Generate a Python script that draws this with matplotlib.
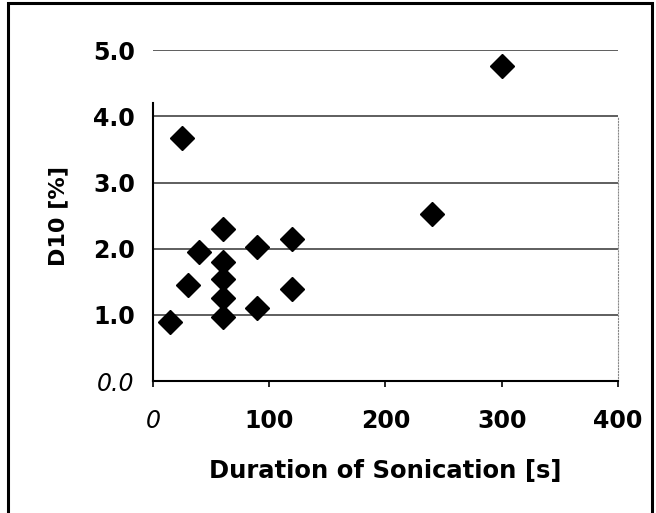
import matplotlib.pyplot as plt
from matplotlib.patches import Rectangle

# Sonication duration [s] and D10 [%]
duration = [15, 25, 30, 40, 60, 60, 60, 60, 60, 90, 90, 120, 120, 240, 300]
d10 = [0.9, 3.67, 1.45, 1.95, 2.3, 1.8, 1.55, 1.25, 0.97, 2.02, 1.1, 2.15, 1.4, 2.52, 4.76]

x_ticks = [0, 100, 200, 300, 400]
x_labels = ['0', '100', '200', '300', '400']
y_ticks = [0.0, 1.0, 2.0, 3.0, 4.0, 5.0]
y_labels = ['0.0', '1.0', '2.0', '3.0', '4.0', '5.0']


def main():
    fig = plt.figure(figsize=(6.56, 5.13), dpi=100)
    fig.patches.append(Rectangle((0.012, -0.01), 0.982, 1.004, transform=fig.transFigure,
                                 fill=False, edgecolor='black', linewidth=2.2))

    ax = fig.add_axes([0.233, 0.257, 0.709, 0.645])
    ax.set_xlim(0, 400)
    ax.set_ylim(0, 5.0)

    # horizontal grid lines
    for y in y_ticks[1:]:
        ax.axhline(y, color='#333333', linewidth=1.1, zorder=1)

    ax.plot(duration, d10, linestyle='none', marker='D', markersize=12,
            color='black', zorder=3, clip_on=False)

    ax.spines['top'].set_visible(False)
    ax.spines['right'].set_color('#888888')
    ax.spines['right'].set_linestyle(':')
    ax.spines['right'].set_bounds(0, 4.0)
    ax.spines['left'].set_bounds(0, 4.2)
    ax.spines['left'].set_linewidth(1.5)
    ax.spines['bottom'].set_linewidth(1.5)

    ax.set_xticks(x_ticks)
    ax.set_xticklabels(x_labels, fontsize=17, fontweight='bold')
    ax.set_yticks(y_ticks)
    ax.set_yticklabels(y_labels, fontsize=17, fontweight='bold')
    ax.xaxis.get_ticklabels()[0].set_style('italic')
    ax.xaxis.get_ticklabels()[0].set_fontweight('normal')
    ax.yaxis.get_ticklabels()[0].set_style('italic')
    ax.yaxis.get_ticklabels()[0].set_fontweight('normal')
    ax.tick_params(axis='x', length=4, width=1.2, pad=16)
    ax.tick_params(axis='y', length=0, pad=13)

    ax.set_xlabel('Duration of Sonication [s]', fontsize=17.5, fontweight='bold', labelpad=19)
    ax.set_ylabel('D10 [%]', fontsize=16, fontweight='bold', labelpad=18)

    fig.savefig('out.png', dpi=100)


if __name__ == "__main__":
    main()
